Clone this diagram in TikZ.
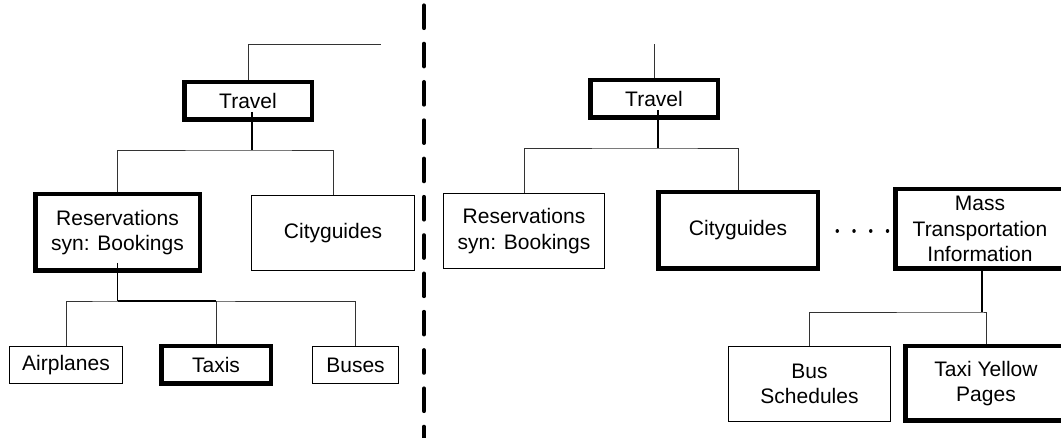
\documentclass[tikz,border=0pt]{standalone}
\usepackage{fontspec}
\setmainfont{Liberation Sans}
\usetikzlibrary{calc}
\begin{document}
\begin{tikzpicture}[x=1pt,y=-1pt,
  box/.style={draw, line width=1pt, inner sep=0pt, align=center,
              font=\fontsize{21}{25.5}\selectfont},
  hibox/.style={box, line width=4.5pt},
  link/.style={line width=0.9pt, black!80},
  stem/.style={line width=1.8pt},
  divider/.style={line width=4pt, line cap=round, dash pattern=on 22.7pt off 15.6pt},
  dotlink/.style={line width=3.5pt, line cap=round, dash pattern=on 0.01pt off 16.74pt}]
\useasboundingbox (0,0) rectangle (1061,438);
\clip (0,0) rectangle (1061,438);

% vertical divider between the two hierarchies
\coordinate (divTop) at (424,5.4);
\coordinate (divBot) at (424,450);
\draw[divider] (divTop) -- (divBot);

% ---------- left hierarchy ----------
\node[hibox, minimum width=127.5pt, minimum height=37.5pt] (travelL) at (248,101) {Travel};
\node[hibox, minimum width=164.5pt, minimum height=76.5pt] (resL) at (117.5,232.5) {Reservations\\syn: Bookings};
\node[box, minimum width=163pt, minimum height=75pt] (cityL) at (333,233) {Cityguides};
\node[box, minimum width=113pt, minimum height=37pt] (airL) at (66,365) {Airplanes};
\node[hibox, minimum width=109.5pt, minimum height=37.5pt] (taxisL) at (216,365) {Taxis};
\node[box, minimum width=86pt, minimum height=37pt] (busesL) at (355.5,365) {Buses};

\coordinate (topL) at (381,44);
\draw[link] (travelL.north) |- (topL);

\coordinate (jTL) at (251.7,150);
\draw[stem] ($(travelL.center)+(3.7,11)$) -- (jTL);
\draw[link] (resL.north) |- (jTL) -| (cityL.north);

\coordinate (jRL) at (117.5,301);
\draw[stem] ($(resL.center)+(0,30.5)$) -- (jRL);
\draw[link] (airL.north) |- (jRL) -| (busesL.north);
\draw[line width=1.3pt] (jRL) -- (taxisL.north |- jRL);
\draw[link] (taxisL.north) -- (taxisL.north |- jRL);

% ---------- right hierarchy ----------
\node[hibox, minimum width=127.5pt, minimum height=37.5pt] (travelR) at (654,99) {Travel};
\node[box, minimum width=161pt, minimum height=75pt] (resR) at (524,231) {Reservations\\syn: Bookings};
\node[hibox, minimum width=159.5pt, minimum height=76.5pt] (cityR) at (738,230.5) {Cityguides};
\node[hibox, minimum width=169.5pt, minimum height=79.5pt] (massR) at (980,229) {Mass\\Transportation\\Information};
\node[box, minimum width=162pt, minimum height=75pt] (busR) at (809.5,384) {Bus\\Schedules};
\node[hibox, minimum width=161.5pt, minimum height=74.5pt] (taxiR) at (986,383.5) {Taxi Yellow\\Pages};

\coordinate (topR) at (654,44);
\draw[link] (travelR.north) -- (topR);

\coordinate (jTR) at (658,148);
\draw[stem] ($(travelR.center)+(4,11)$) -- (jTR);
\draw[link] (resR.north) |- (jTR) -| (cityR.north);

% dotted link between Cityguides and Mass Transportation Information
\draw[dotlink] ($(cityR.east)+(17.25,0.5)$) -- ($(massR.west)+(-2,2)$);

\coordinate (jMR) at (982,312);
\draw[stem] ($(massR.south)+(2,0)$) -- (jMR);
\draw[link] (busR.north) |- (jMR) -| (taxiR.north);
\end{tikzpicture}
\end{document}
